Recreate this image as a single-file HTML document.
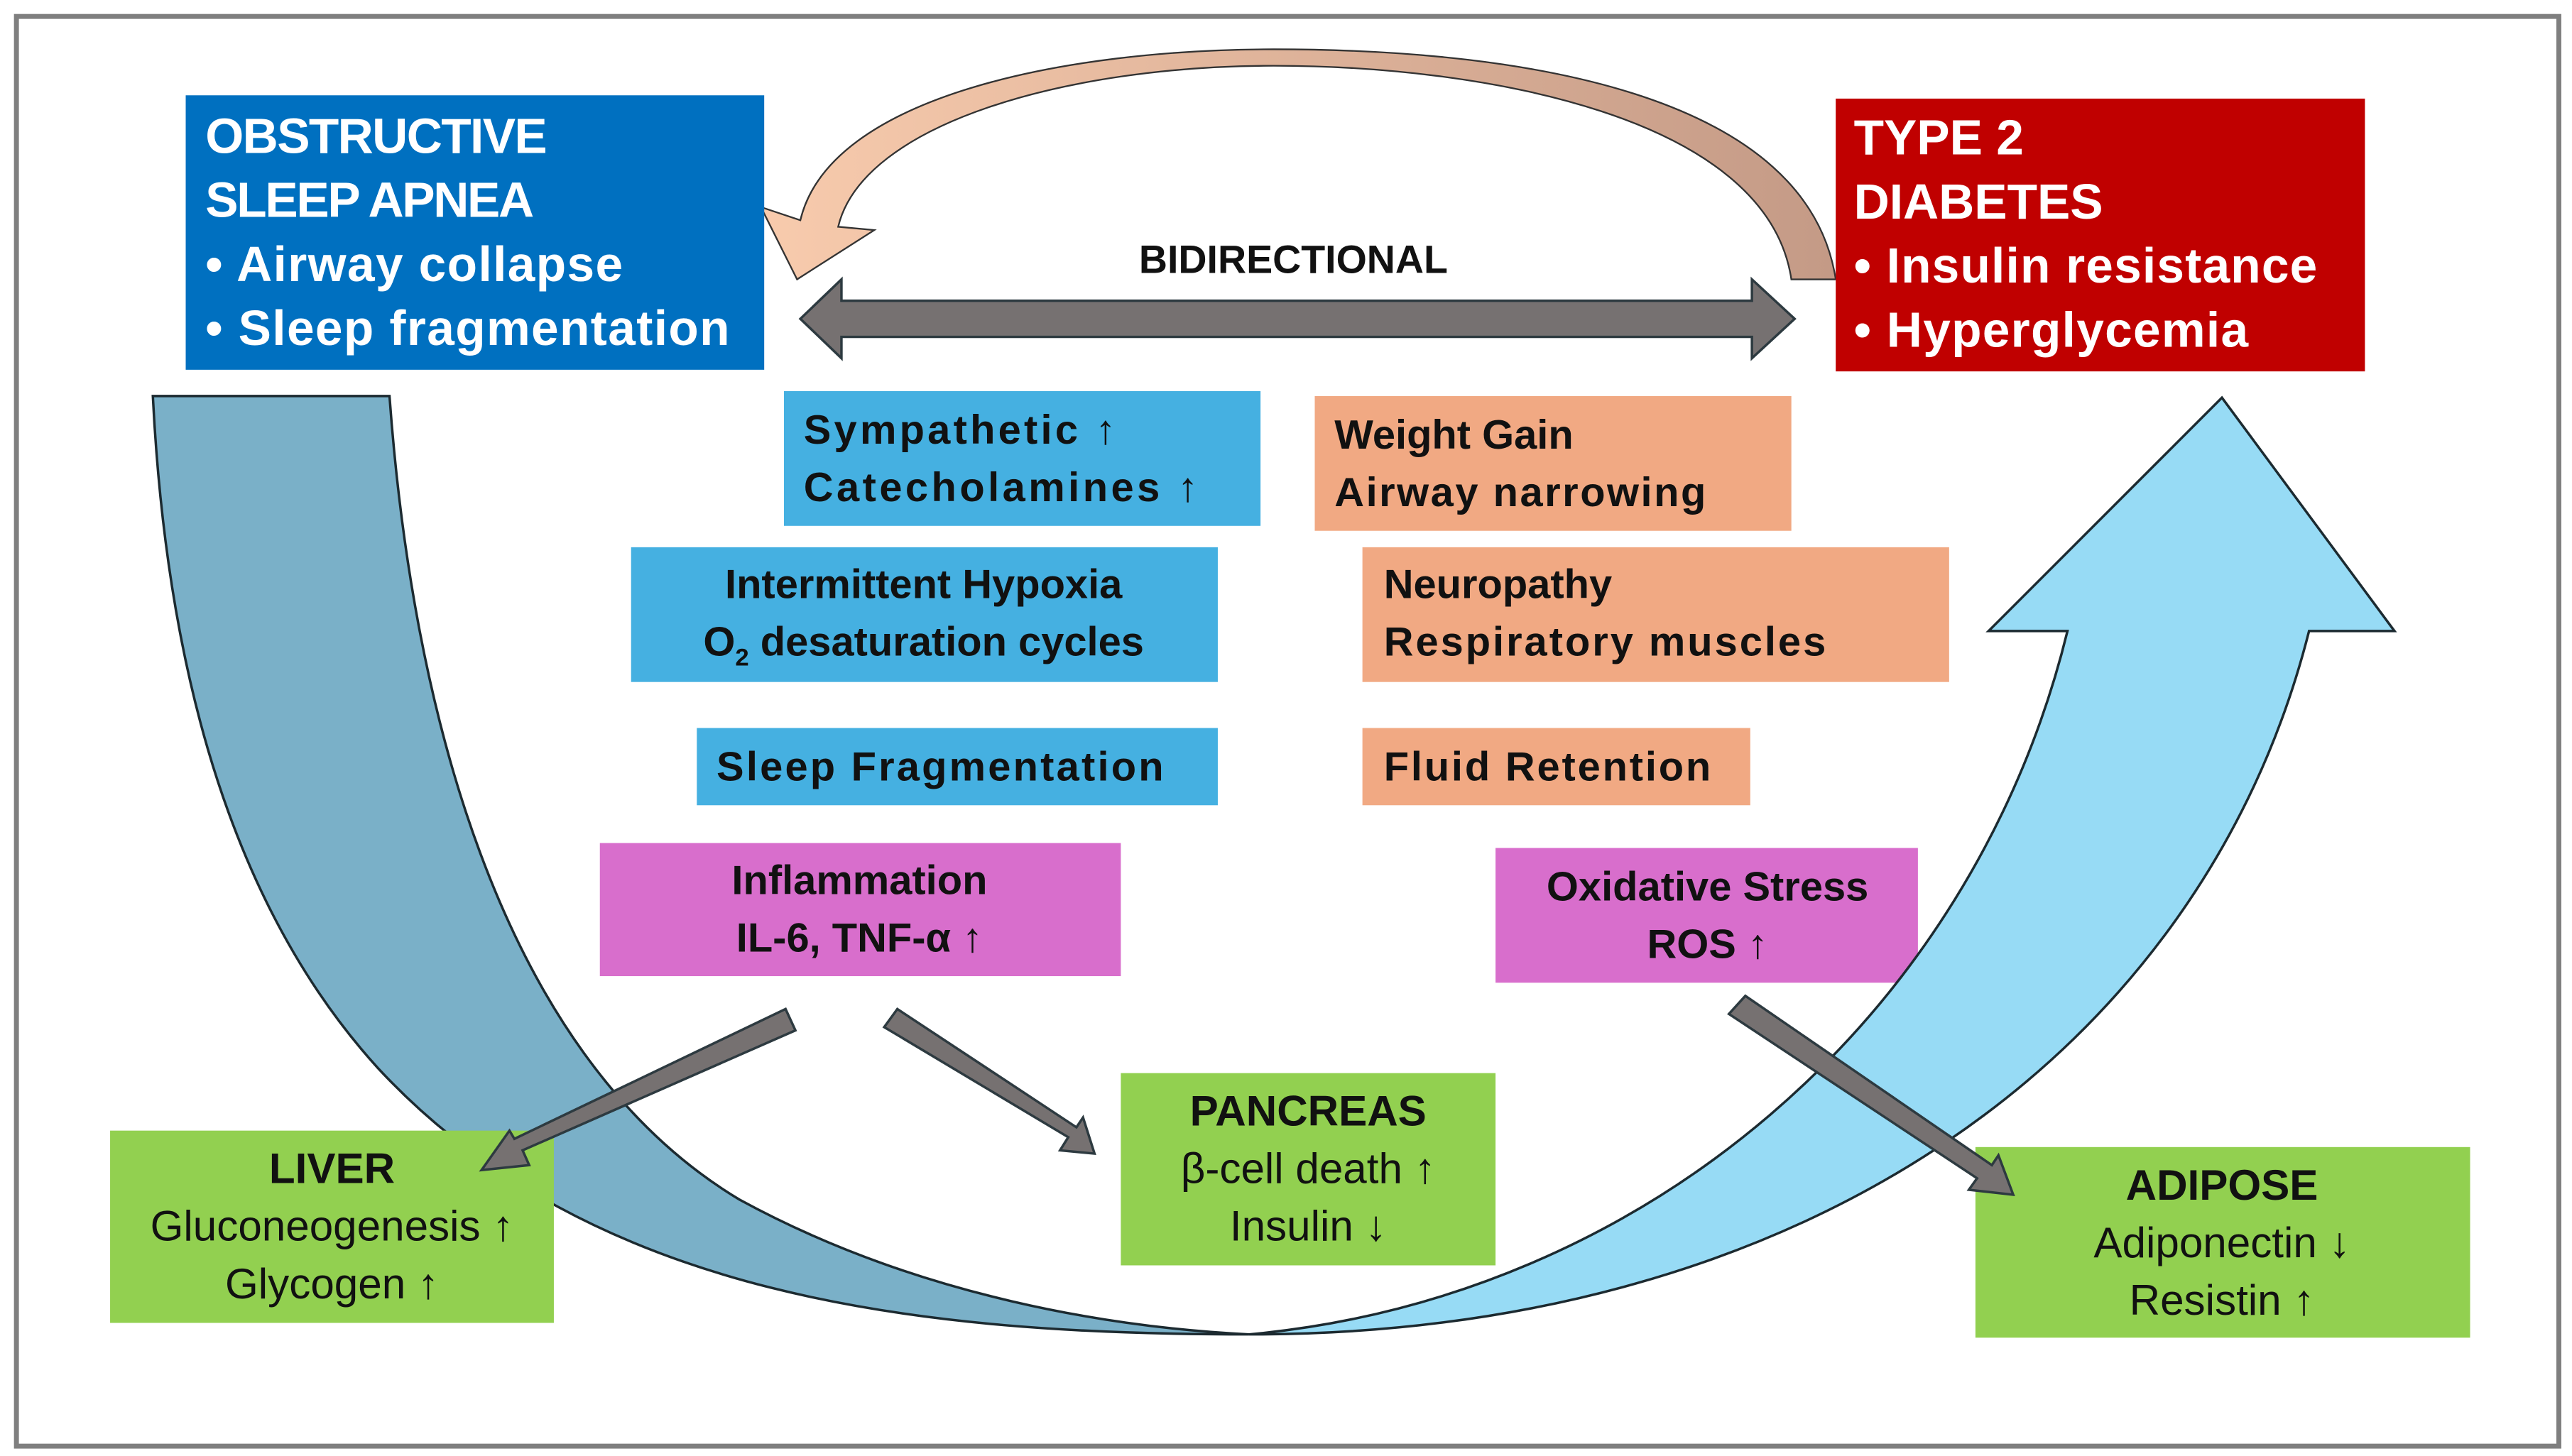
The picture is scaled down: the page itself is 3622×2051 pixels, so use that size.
<!DOCTYPE html>
<html><head><meta charset="utf-8"><style>html,body{margin:0;padding:0;background:#fff}svg{display:block}</style></head>
<body>
<svg width="3622" height="2051" viewBox="0 0 1565 886" preserveAspectRatio="none" xmlns="http://www.w3.org/2000/svg" font-family="Liberation Sans, sans-serif">
<defs>
<linearGradient id="pg" x1="0" x2="1" y1="0" y2="0"><stop offset="0" stop-color="#F8CBAD"/><stop offset="1" stop-color="#C49A86"/></linearGradient>
</defs>
<rect x="0" y="0" width="1565" height="886" fill="#fff"/>
<rect x="10" y="10" width="1547" height="870" fill="none" stroke="#7f7f7f" stroke-width="3"/>

<path d="M1117,170 L1090,170 C1075,70 900,40 775,40 C650,40 525,75 510,138 L532,140 L485,170 L463,126 L487,134 C505,58 650,30 775,30 C935,30 1100,60 1117,170 Z" fill="url(#pg)" stroke="#333" stroke-width="1"/>

<path d="M487,194 L512,170 L512,183 L1066,183 L1066,170 L1092,194 L1066,218 L1066,205 L512,205 L512,218 Z" fill="#767171" stroke="#2d3a40" stroke-width="1.5"/>
<text x="787" y="166" font-size="24" font-weight="bold" text-anchor="middle" fill="#111">BIDIRECTIONAL</text>

<rect x="113" y="58" width="352" height="167" fill="#0070C0"/>
<g font-size="30" font-weight="bold" fill="#fff">
<text x="125" y="93" textLength="208">OBSTRUCTIVE</text>
<text x="125" y="132" textLength="200">SLEEP APNEA</text>
<text x="125" y="171" textLength="254">• Airway collapse</text>
<text x="125" y="210" textLength="319">• Sleep fragmentation</text>
</g>
<rect x="1117" y="60" width="322" height="166" fill="#C00000"/>
<g font-size="30" font-weight="bold" fill="#fff">
<text x="1128" y="94">TYPE 2</text>
<text x="1128" y="133">DIABETES</text>
<text x="1128" y="172" textLength="282">• Insulin resistance</text>
<text x="1128" y="211" textLength="240">• Hyperglycemia</text>
</g>

<g font-size="25" font-weight="bold" fill="#111">
<rect x="477" y="238" width="290" height="82" fill="#45B0E1"/>
<text x="489" y="270" textLength="190">Sympathetic  ↑</text>
<text x="489" y="305" textLength="240">Catecholamines  ↑</text>
<rect x="384" y="333" width="357" height="82" fill="#45B0E1"/>
<text x="562" y="364" text-anchor="middle">Intermittent Hypoxia</text>
<text x="562" y="399" text-anchor="middle">O<tspan font-size="15" dy="6">2</tspan><tspan dy="-6"> desaturation cycles</tspan></text>
<rect x="424" y="443" width="317" height="47" fill="#45B0E1"/>
<text x="436" y="475" textLength="272">Sleep Fragmentation</text>
<rect x="800" y="241" width="290" height="82" fill="#F1A983"/>
<text x="812" y="273">Weight Gain</text>
<text x="812" y="308" textLength="226">Airway narrowing</text>
<rect x="829" y="333" width="357" height="82" fill="#F1A983"/>
<text x="842" y="364">Neuropathy</text>
<text x="842" y="399" textLength="269">Respiratory muscles</text>
<rect x="829" y="443" width="236" height="47" fill="#F1A983"/>
<text x="842" y="475" textLength="199">Fluid Retention</text>
<rect x="365" y="513" width="317" height="81" fill="#D86ECC"/>
<text x="523" y="544" text-anchor="middle">Inflammation</text>
<text x="523" y="579" text-anchor="middle">IL-6, TNF-α ↑</text>
<rect x="910" y="516" width="257" height="82" fill="#D86ECC"/>
<text x="1039" y="548" text-anchor="middle">Oxidative Stress</text>
<text x="1039" y="583" text-anchor="middle">ROS ↑</text>
</g>

<path d="M93,241 L237,241 C250,420 300,640 450,730 C560,790 680,808 760,812 C560,812 360,790 230,650 C130,540 100,380 93,241 Z" fill="#7AB0C8" stroke="#1c2a30" stroke-width="1.5"/>
<path d="M760,812 C1000,790 1200,620 1258,384 L1210,384 L1352,242 L1457,384 L1405,384 C1340,640 1100,812 760,812 Z" fill="#97DBF5" stroke="#1c2a30" stroke-width="1.5"/>

<rect x="67" y="688" width="270" height="117" fill="#92D050"/>
<rect x="682" y="653" width="228" height="117" fill="#92D050"/>
<rect x="1202" y="698" width="301" height="116" fill="#92D050"/>
<g font-size="26" fill="#111" text-anchor="middle">
<text x="202" y="720" font-weight="bold">LIVER</text>
<text x="202" y="755">Gluconeogenesis ↑</text>
<text x="202" y="790">Glycogen ↑</text>
<text x="796" y="685" font-weight="bold">PANCREAS</text>
<text x="796" y="720">β-cell death ↑</text>
<text x="796" y="755">Insulin ↓</text>
<text x="1352" y="730" font-weight="bold">ADIPOSE</text>
<text x="1352" y="765">Adiponectin ↓</text>
<text x="1352" y="800">Resistin ↑</text>
</g>

<g fill="#767171" stroke="#2d3a40" stroke-width="1.5">
<path d="M478,614 L484,627 L318,700 L322,709 L293,712 L310,688 L313,693 Z"/>
<path d="M546,614 L538,625 L650,692 L645,700 L666,702 L659,680 L655,686 Z"/>
<path d="M1062,606 L1052,617 L1203,717 L1198,724 L1225,727 L1216,703 L1212,709 Z"/>
</g>
</svg>
</body></html>
